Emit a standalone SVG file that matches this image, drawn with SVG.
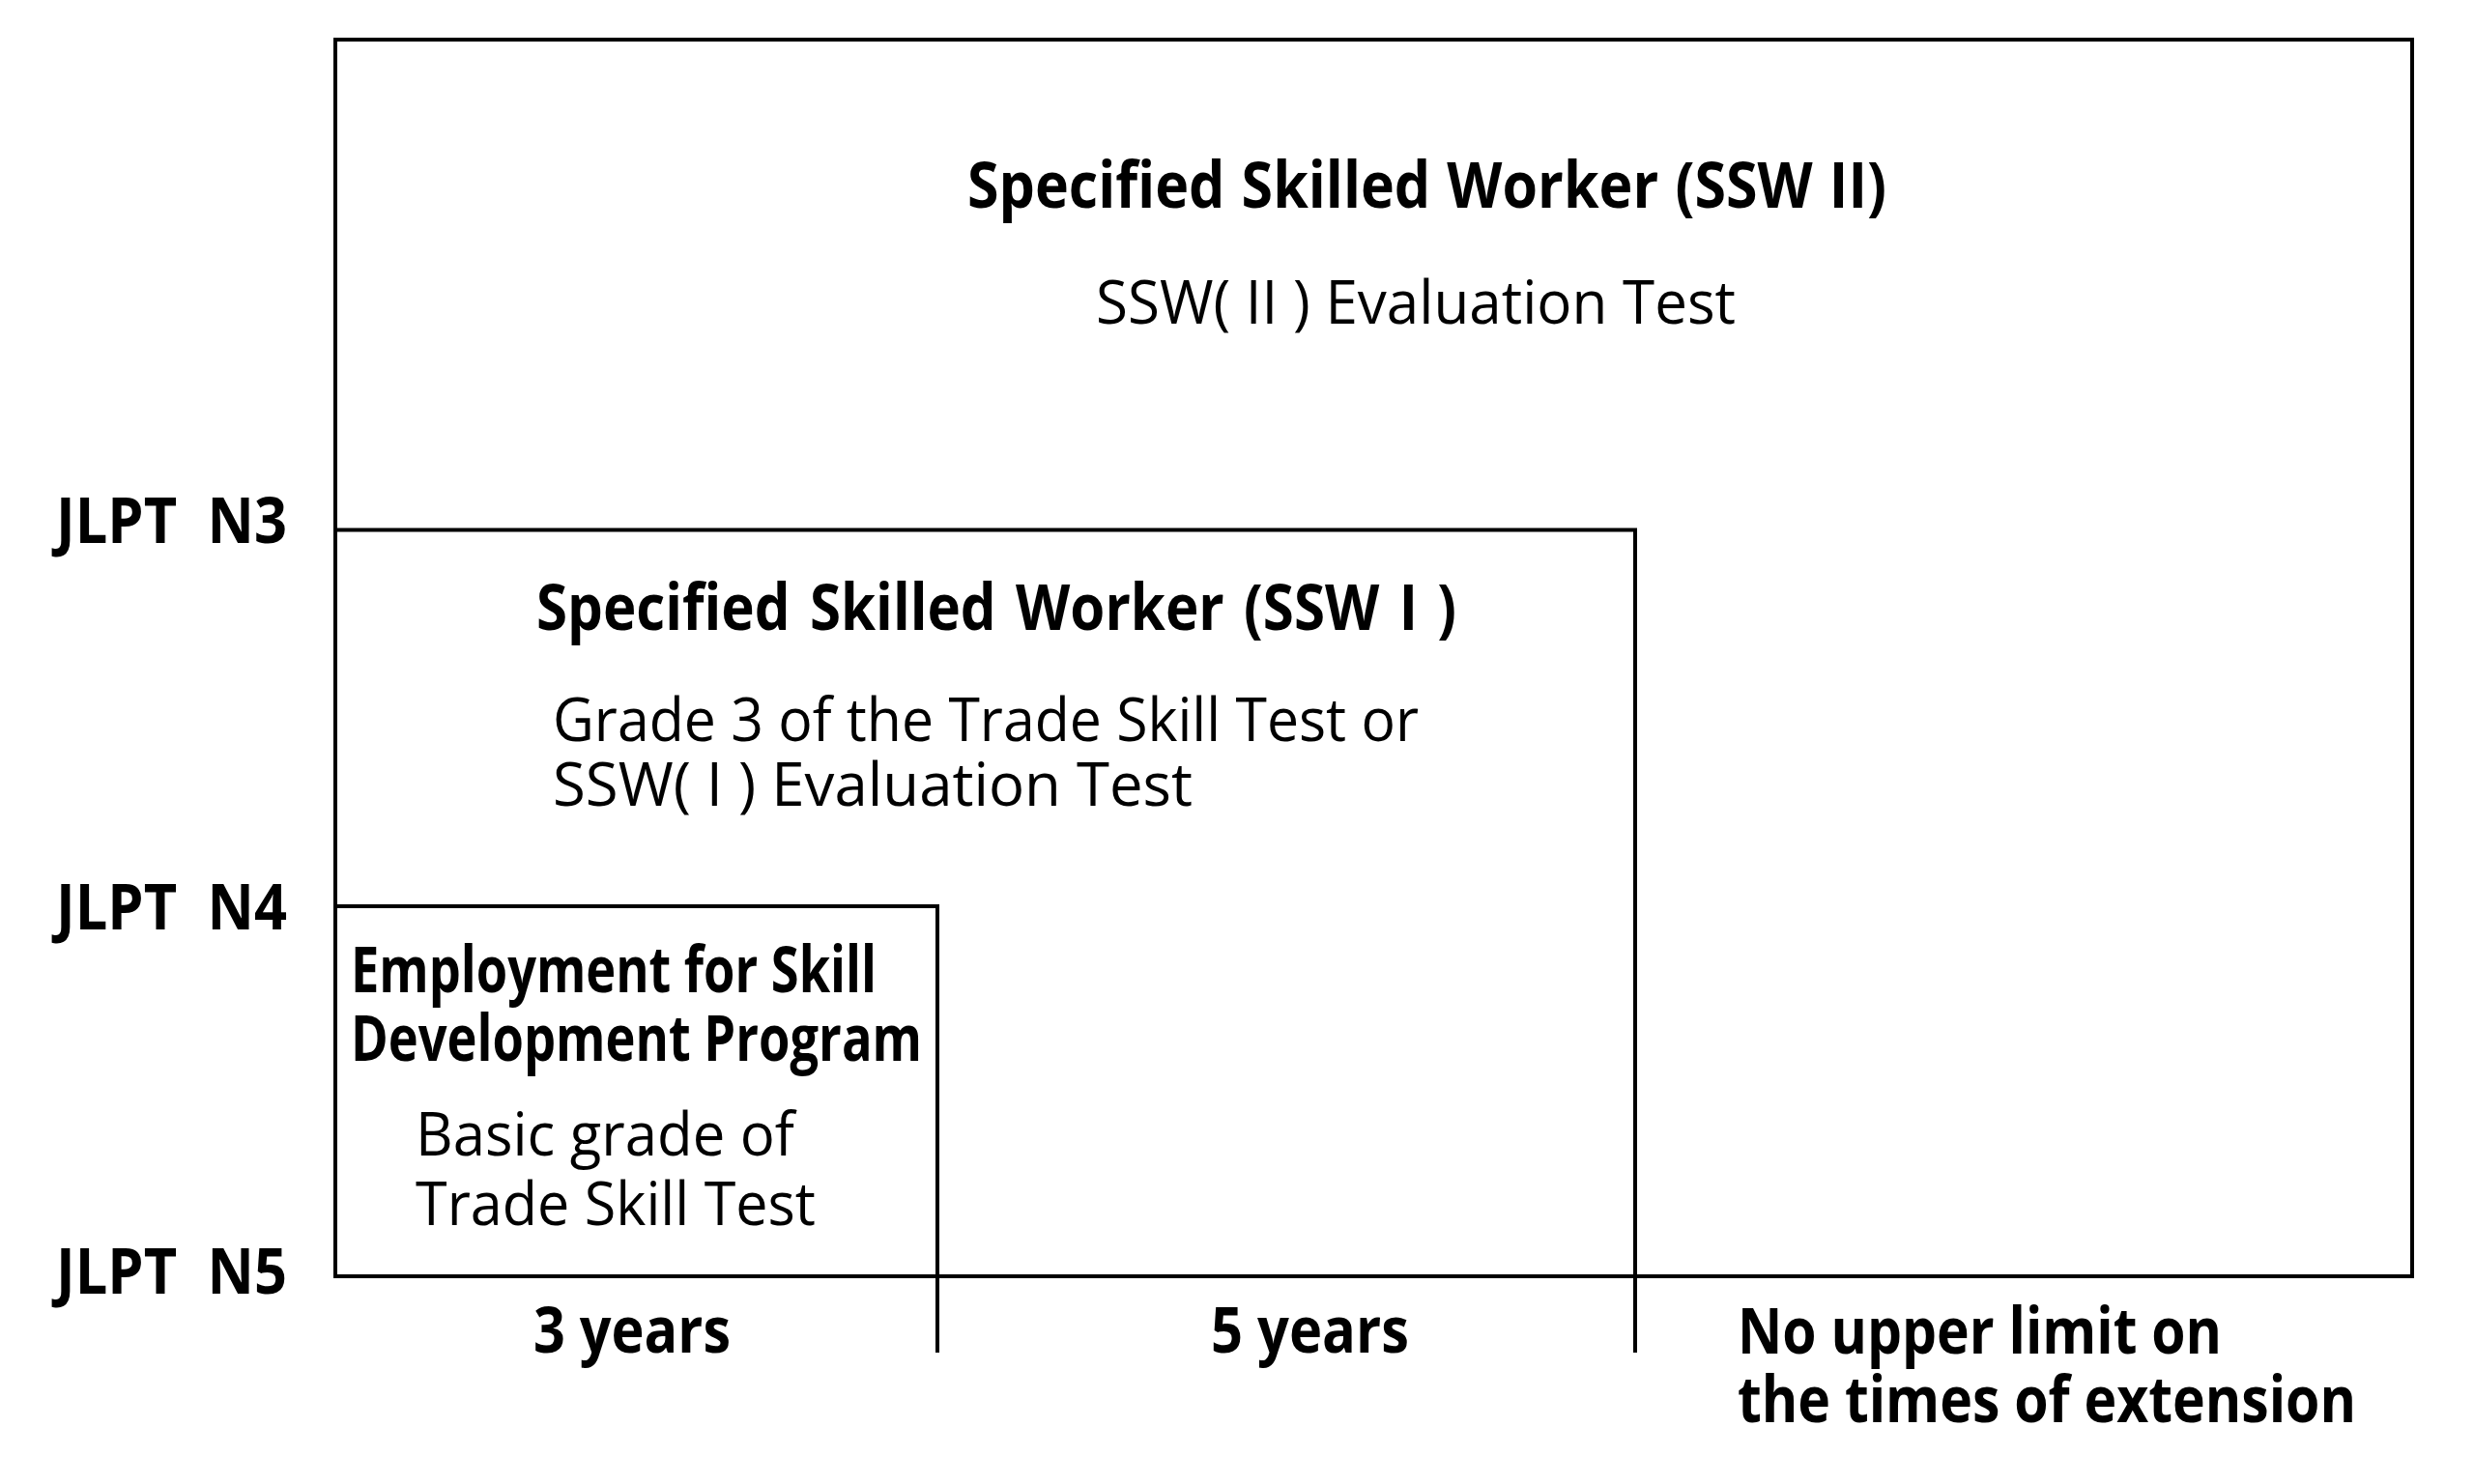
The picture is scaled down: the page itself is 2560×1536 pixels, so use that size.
<svg xmlns="http://www.w3.org/2000/svg" width="2560" height="1536" viewBox="0 0 2560 1536">
<style>
.ln{fill:none;stroke:#000;stroke-width:4;stroke-linecap:butt;stroke-linejoin:miter}
.b{font-family:"Open Sans","Noto Sans","Liberation Sans",sans-serif;font-weight:700;font-size:67px;fill:#000}
.r{font-family:"Open Sans","Noto Sans","Liberation Sans",sans-serif;font-weight:400;font-size:63px;fill:#000}
</style>
<rect width="2560" height="1536" fill="#fff"/>
<g id="ssw2">
<rect class="ln" x="347" y="41" width="2149" height="1280"/>
<text class="b" x="1001" y="215" textLength="951" lengthAdjust="spacingAndGlyphs" word-spacing="2">Specified Skilled Worker (SSW II)</text>
<text class="r" x="1134" y="335" textLength="662" lengthAdjust="spacingAndGlyphs">SSW( II ) Evaluation Test</text>
</g>
<g id="ssw1">
<path class="ln" d="M347 548.5H1692V1400"/>
<text class="b" x="555" y="652" textLength="952" lengthAdjust="spacingAndGlyphs" word-spacing="6">Specified Skilled Worker (SSW I )</text>
<text class="r" x="572" y="767" textLength="896" lengthAdjust="spacingAndGlyphs">Grade 3 of the Trade Skill Test or</text>
<text class="r" x="572" y="834" textLength="662" lengthAdjust="spacingAndGlyphs">SSW( I ) Evaluation Test</text>
</g>
<g id="esdp">
<path class="ln" d="M347 938H970V1400"/>
<text class="b" x="363" y="1027" textLength="544" lengthAdjust="spacingAndGlyphs">Employment for Skill</text>
<text class="b" x="363" y="1098" textLength="591" lengthAdjust="spacingAndGlyphs">Development Program</text>
<text class="r" x="430" y="1196" textLength="392" lengthAdjust="spacingAndGlyphs">Basic grade of</text>
<text class="r" x="430" y="1268" textLength="414" lengthAdjust="spacingAndGlyphs">Trade Skill Test</text>
</g>
<g id="y-axis-labels">
<text class="b" x="58" y="562" textLength="239" lengthAdjust="spacingAndGlyphs" word-spacing="18">JLPT N3</text>
<text class="b" x="58" y="962" textLength="239" lengthAdjust="spacingAndGlyphs" word-spacing="18">JLPT N4</text>
<text class="b" x="58" y="1339" textLength="239" lengthAdjust="spacingAndGlyphs" word-spacing="18">JLPT N5</text>
</g>
<g id="x-axis-labels">
<text class="b" x="552" y="1400" textLength="204" lengthAdjust="spacingAndGlyphs">3 years</text>
<text class="b" x="1253" y="1400" textLength="205" lengthAdjust="spacingAndGlyphs">5 years</text>
<text class="b" x="1798" y="1401" textLength="501" lengthAdjust="spacingAndGlyphs">No upper limit on</text>
<text class="b" x="1798" y="1472" textLength="640" lengthAdjust="spacingAndGlyphs">the times of extension</text>
</g>
<g id="connectors"></g>
</svg>
